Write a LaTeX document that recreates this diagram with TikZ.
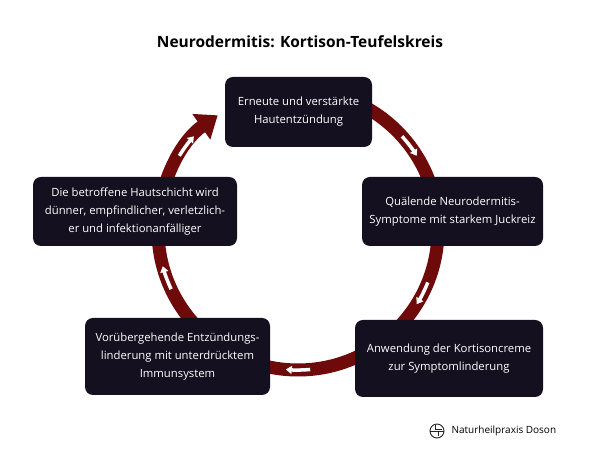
\documentclass[tikz,border=0pt]{standalone}
\usepackage{fontspec}
\setmainfont{Open Sans}
\usetikzlibrary{arrows.meta}
\definecolor{boxc}{HTML}{151020}
\definecolor{ringc}{HTML}{6E0A0A}
\tikzset{
  box/.style={fill=boxc,rounded corners=8pt,text=white,align=center,font=\fontsize{11.3}{18}\selectfont,inner sep=0pt},
  wa/.style={draw=white,line width=3.5pt,-{Triangle[width=8pt,length=6pt]}},
}
\begin{document}
\begin{tikzpicture}[x=1pt,y=1pt]
\useasboundingbox (0,0) rectangle (600,462);
\fill[white] (0,0) rectangle (600,462);
\node (title) at (300,420) {\fontsize{15.5}{18}\selectfont\bfseries Neurodermitis: Kortison-Teufelskreis};
\coordinate (c) at (298,232);
\draw[ringc,line width=13pt,-{Triangle[width=30pt,length=20pt]}] ([shift={(90:140)}]c) arc[start angle=90,end angle=-235,radius=140];
\foreach \a in {37,-27,-90,200,143}{
  \draw[wa] ([shift={(\a+5:140)}]c) arc[start angle=\a+5,end angle=\a-5,radius=140];
}
\node[box,minimum width=147pt,minimum height=70pt] (n1) at (298.5,350) {Erneute und verstärkte\\Hautentzündung};
\node[box,minimum width=181pt,minimum height=69pt] (n2) at (452.5,250.5) {Quälende Neurodermitis-\\Symptome mit starkem Juckreiz};
\node[box,minimum width=188pt,minimum height=77pt] (n3) at (449,103.5) {Anwendung der Kortisoncreme\\zur Symptomlinderung};
\node[box,minimum width=185pt,minimum height=77pt] (n4) at (177.5,105.5) {Vorübergehende Entzündungs-\\linderung mit unterdrücktem\\Immunsystem};
\node[box,minimum width=204pt,minimum height=69pt] (n5) at (135,250.5) {Die betroffene Hautschicht wird\\dünner, empfindlicher, verletzlich-\\er und infektionanfälliger};
\node[anchor=west,font=\fontsize{10}{11}\selectfont] (logo) at (448,31) {Naturheilpraxis Doson};
\coordinate (ic) at (437,31);
\draw[black!85,line width=0.9pt] (ic) circle (7pt);
\draw[black!85,line width=0.8pt] ([shift={(-7,0)}]ic) -- ([shift={(1,0)}]ic) -- ([shift={(1,-5)}]ic)
  ([shift={(-2,6.3)}]ic) -- ([shift={(-2,2)}]ic) -- ([shift={(5,2)}]ic) ([shift={(1,0)}]ic) -- ([shift={(6.5,0)}]ic);
\end{tikzpicture}
\end{document}
